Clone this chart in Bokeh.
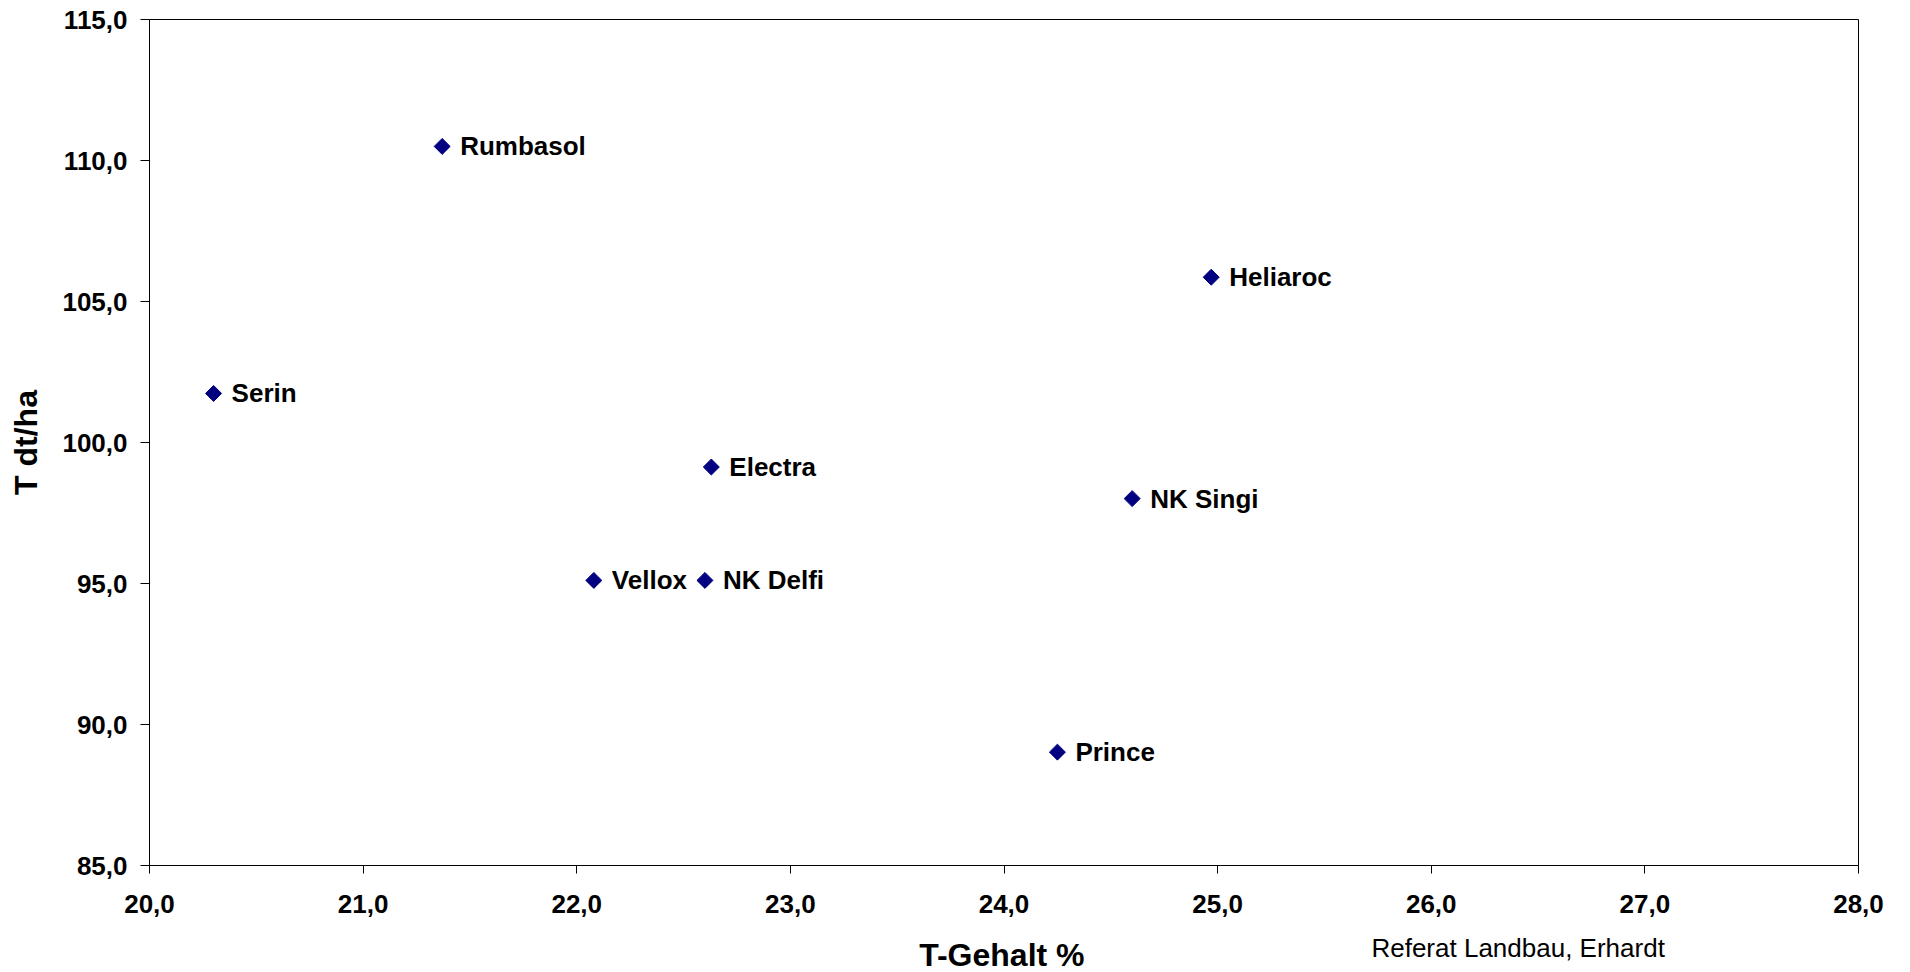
import numpy as np
from bokeh.plotting import figure
from bokeh.layouts import column
from bokeh.models import ColumnDataSource, FixedTicker, LabelSet, Range1d
from bokeh.core.properties import value
from bokeh.embed import file_html
from bokeh.resources import INLINE

# ---- data ----
varieties = ["Rumbasol", "Heliaroc", "Serin", "Electra", "NK Singi", "Vellox", "NK Delfi", "Prince"]
t_gehalt = [21.37, 24.97, 20.30, 22.63, 24.60, 22.08, 22.60, 24.25]
t_dt_ha = [110.50, 105.86, 101.74, 99.13, 98.01, 95.11, 95.11, 89.02]

x_ticks = [20, 21, 22, 23, 24, 25, 26, 27, 28]
x_tick_labels = ["20,0", "21,0", "22,0", "23,0", "24,0", "25,0", "26,0", "27,0", "28,0"]
y_ticks = [85, 90, 95, 100, 105, 110, 115]
y_tick_labels = ["85,0", "90,0", "95,0", "100,0", "105,0", "110,0", "115,0"]

x_title = "T-Gehalt %"
y_title = "T dt/ha"
source_note = "Referat Landbau, Erhardt"

FONT = "Liberation Sans"

src = ColumnDataSource(dict(x=t_gehalt, y=t_dt_ha, name=varieties))
xr = Range1d(20, 28)

p = figure(width=1910, height=925, x_range=xr, y_range=(85, 115),
           output_backend="svg", toolbar_location=None,
           min_border_left=149, min_border_right=52, min_border_top=19, min_border_bottom=60)
p.background_fill_color = "white"
p.border_fill_color = "white"
p.outline_line_color = "black"
p.outline_line_width = 1
p.xgrid.visible = False
p.ygrid.visible = False

p.scatter("x", "y", source=src, marker="square", size=11.3, angle=np.pi / 4,
          fill_color="#000080", line_color="#000080")

labels = LabelSet(x="x", y="y", text="name", source=src, x_offset=18, y_offset=0,
                  text_font=value(FONT), text_font_style="bold", text_font_size="26px",
                  text_baseline="middle", text_align="left", text_color="black")
p.add_layout(labels)

for ax, ticks, tl in ((p.xaxis[0], x_ticks, x_tick_labels), (p.yaxis[0], y_ticks, y_tick_labels)):
    ax.ticker = FixedTicker(ticks=ticks)
    ax.major_label_overrides = {t: s for t, s in zip(ticks, tl)}
    ax.minor_tick_line_color = None
    ax.major_tick_in = 0
    ax.axis_line_color = "black"
    ax.major_tick_line_color = "black"
    ax.major_label_text_font = FONT
    ax.major_label_text_font_style = "bold"
    ax.major_label_text_font_size = "26px"
    ax.major_label_text_color = "black"
    ax.axis_label_text_font = FONT
    ax.axis_label_text_font_style = "bold"
    ax.axis_label_text_font_size = "32px"
    ax.axis_label_text_color = "black"

p.yaxis.axis_label = y_title
p.xaxis.major_tick_out = 8
p.yaxis.major_tick_out = 9
p.xaxis.major_label_standoff = 21
p.yaxis.major_label_standoff = 13
p.yaxis.axis_label_standoff = 15

# strip below the chart (frame aligned with the chart's frame) holding the x-axis title and source note
foot = figure(width=1910, height=47, x_range=xr, y_range=Range1d(0, 47),
              output_backend="svg", toolbar_location=None,
              min_border_left=149, min_border_right=52, min_border_top=0, min_border_bottom=0)
foot.axis.visible = False
foot.xgrid.visible = False
foot.ygrid.visible = False
foot.outline_line_color = None
foot.background_fill_color = "white"
foot.border_fill_color = "white"

foot.text(x=[23.99], y=[18], text=[x_title], text_font=value(FONT), text_font_style="bold",
          text_font_size="32px", text_align="center", text_baseline="alphabetic", text_color="black")
foot.text(x=[25.72], y=[25], text=[source_note], text_font=value(FONT), text_font_style="normal",
          text_font_size="26px", text_align="left", text_baseline="alphabetic", text_color="black")

layout = column(p, foot, spacing=0)

open("out.html", "w").write(file_html(layout, INLINE))
